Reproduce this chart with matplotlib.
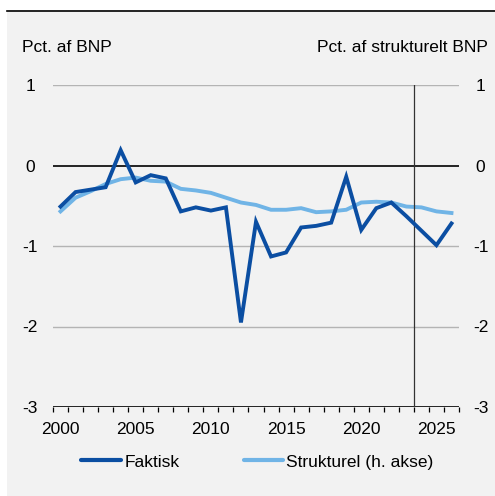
import matplotlib.pyplot as plt
import matplotlib.patches as mpatches
from matplotlib.lines import Line2D
import numpy as np

plt.rcParams['font.family'] = ['Liberation Sans', 'DejaVu Sans']

years = list(range(2000, 2027))
faktisk = [-0.51, -0.33, -0.30, -0.27, 0.19, -0.21, -0.12, -0.16, -0.57, -0.52,
           -0.56, -0.52, -1.95, -0.70, -1.13, -1.08, -0.77, -0.75, -0.71, -0.14,
           -0.80, -0.53, -0.46, -0.63, -0.81, -0.99, -0.72]
strukturel = [-0.57, -0.40, -0.32, -0.23, -0.17, -0.15, -0.19, -0.20, -0.29, -0.31,
              -0.34, -0.40, -0.46, -0.49, -0.55, -0.55, -0.53, -0.58, -0.57, -0.55,
              -0.46, -0.45, -0.46, -0.51, -0.52, -0.57, -0.59]
yticks = [1, 0, -1, -2, -3]
xlabel_years = [2000, 2005, 2010, 2015, 2020, 2025]
forecast_start = 2023.5

dark = '#0b4ea2'
light = '#70b4e6'
bg = '#f2f2f2'
fs = 12.5

W, H = 495, 496
fig = plt.figure(figsize=(W / 100, H / 100), dpi=100, facecolor='white')
fig.patches.append(mpatches.Rectangle((7 / W, 0), 1 - 7 / W, 1 - 10 / H,
                                      transform=fig.transFigure, facecolor=bg,
                                      edgecolor='none', zorder=-10))
fig.lines.append(Line2D([7 / W, 1], [1 - 10.5 / H, 1 - 10.5 / H], transform=fig.transFigure,
                        color='black', lw=1.2))

left, right = 53 / W, 459 / W
bottom, top = 1 - 407 / H, 1 - 85 / H
ax2 = fig.add_axes([left, bottom, right - left, top - bottom])
ax2.patch.set_visible(False)
ax = fig.add_axes([left, bottom, right - left, top - bottom], sharex=ax2)
ax.patch.set_visible(False)

ax.set_xlim(years[0] - 0.5, years[-1] + 0.5)
for a in (ax, ax2):
    a.set_ylim(-3, 1)
    a.set_yticks(yticks)
    for s in a.spines.values():
        s.set_visible(False)

ax2.yaxis.tick_right()
ax2.tick_params(axis='x', which='both', bottom=False, labelbottom=False)

for v in yticks:
    if v in (0, -3):
        ax.axhline(v, color='black', lw=1.2, zorder=2)
    else:
        ax.axhline(v, color='#b4b4b4', lw=1.0, zorder=1)

ax.axvline(forecast_start, color='#333333', lw=0.9, zorder=2)

ax2.plot(years, strukturel, color=light, lw=2.8, zorder=3, solid_joinstyle='miter')
ax.plot(years, faktisk, color=dark, lw=2.8, zorder=4, solid_joinstyle='miter')

ax.set_xticks(xlabel_years)
ax.set_xticklabels([str(y) for y in xlabel_years], fontsize=fs)
ax.set_xticks(np.arange(years[0] - 0.5, years[-1] + 1.0, 1.0), minor=True)
ax.tick_params(axis='x', which='major', length=0, pad=11)
ax.tick_params(axis='x', which='minor', length=3.5, width=0.9, color='black', direction='out')

ax.set_yticklabels([str(v) for v in yticks], fontsize=fs)
ax.tick_params(axis='y', length=0, pad=16.5)
for t in ax.get_yticklabels():
    t.set_horizontalalignment('center')
ax2.set_yticklabels([str(v) for v in yticks], fontsize=fs)
ax2.tick_params(axis='y', length=0, pad=15.5)
for t in ax2.get_yticklabels():
    t.set_horizontalalignment('center')

fig.text(22 / W, 1 - 47 / H, 'Pct. af BNP', fontsize=fs, ha='left', va='center')
fig.text(488 / W, 1 - 47 / H, 'Pct. af strukturelt BNP', fontsize=fs, ha='right', va='center')

handles = [Line2D([], [], color=dark, lw=3.0, solid_capstyle='round'),
           Line2D([], [], color=light, lw=3.0, solid_capstyle='round')]
fig.legend(handles, ['Faktisk', 'Strukturel (h. akse)'], loc='center',
           bbox_to_anchor=(257.5 / W, 1 - 462 / H), ncol=2, frameon=False, fontsize=fs,
           handlelength=2.3, handletextpad=0.17, columnspacing=3.7,
           borderpad=0, borderaxespad=0)

fig.savefig('out.png', dpi=100, facecolor='white')
